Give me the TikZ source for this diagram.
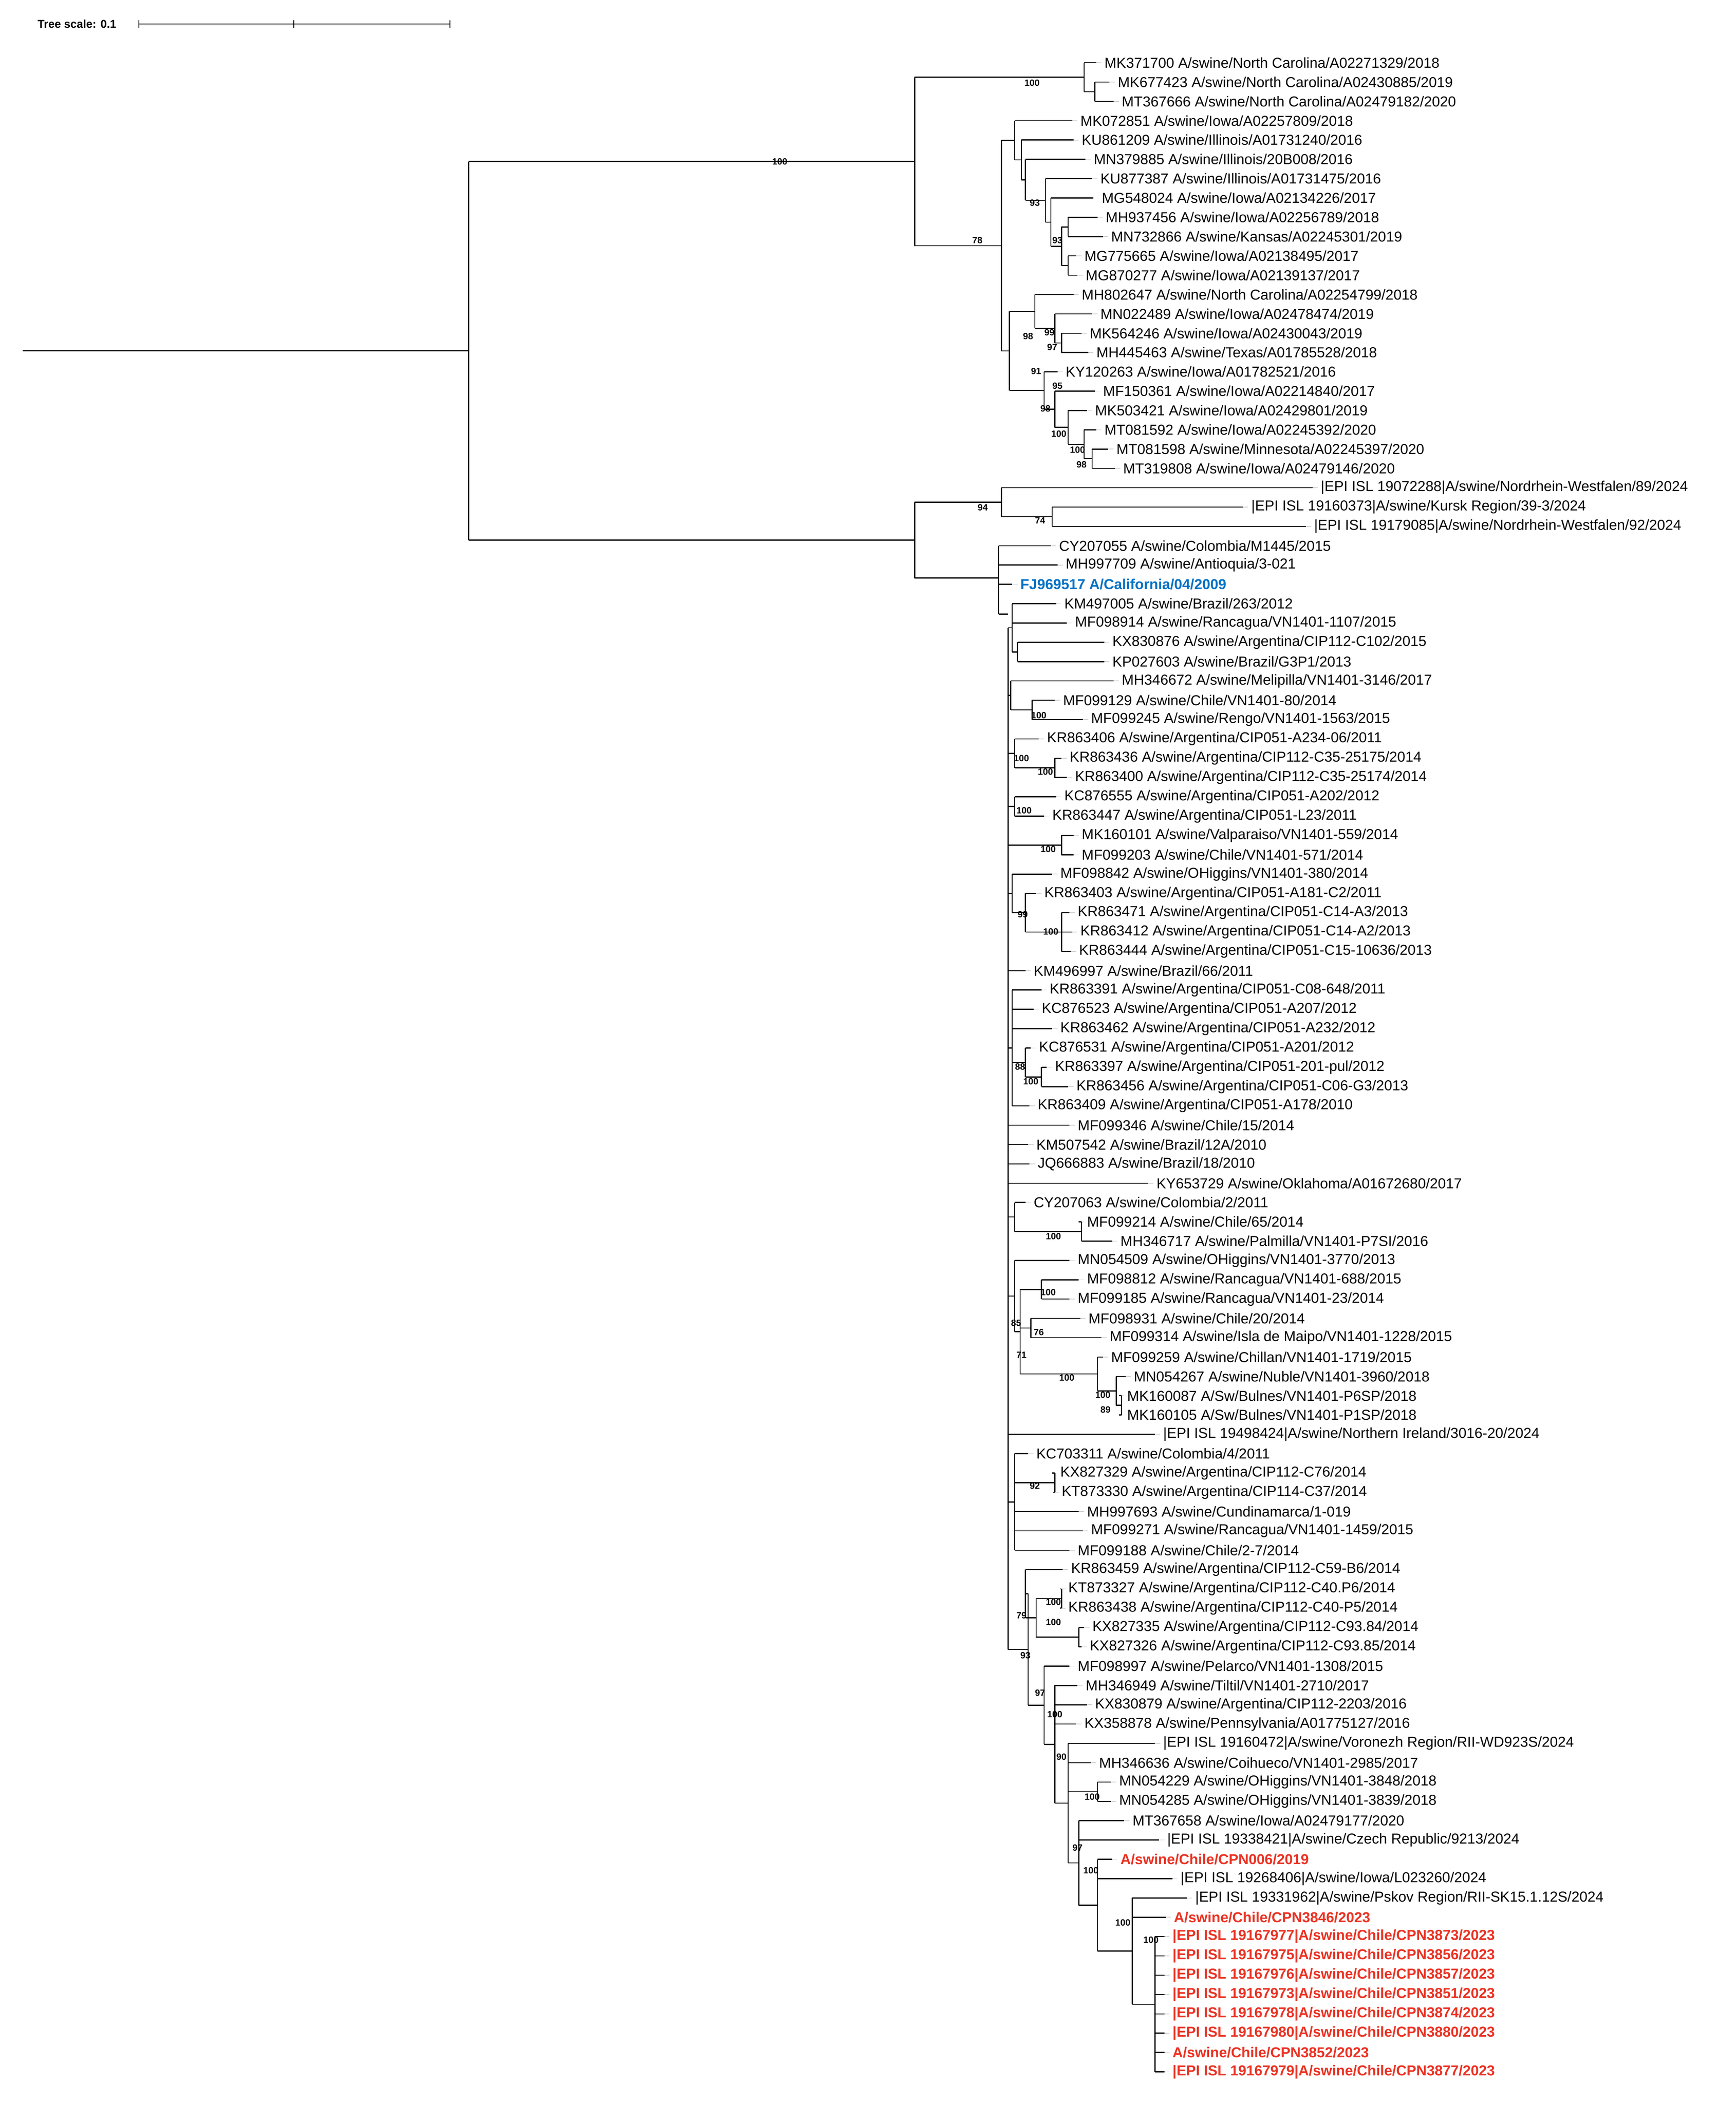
\documentclass[tikz,border=0pt]{standalone}
\usepackage{fontspec}
\setmainfont{Liberation Sans}
\usetikzlibrary{calc}
\definecolor{tblue}{RGB}{0,114,198}
\definecolor{tred}{RGB}{235,50,35}
\tikzset{br/.style={line width=0.8pt,black},
 leaf/.style={anchor=west,inner sep=1pt,font=\fontsize{10.8}{12}\selectfont},
 bs/.style={inner sep=0pt,font=\bfseries\fontsize{6.8}{7}\selectfont},
 dot/.style={gray!35,line width=0.5pt},
 rl/.style={text=tred,font=\bfseries\fontsize{10.8}{12}\selectfont}}
\newcommand\lf[4][]{%
 \coordinate (t#2) at (#3,{47+(#2-1)*14.47});
 \node[leaf,#1] (l#2) at ([xshift=5pt]t#2) {#4};
 \draw[dot] (t#2) -- ([xshift=4pt]t#2);}
\newcommand\cl[4][]{%
 \foreach \c [count=\i] in {#4}{\ifnum\i=1 \global\let\cfirst\c\fi \global\let\clast\c}%
 \coordinate (tmp) at ($(\cfirst)!0.5!(\clast)$);
 \if\relax\detokenize{#1}\relax
 \coordinate (#2) at (#3,0 |- tmp);
 \else
 \coordinate (#2) at (#3,#1);
 \fi
 \draw[br] (#2 |- \cfirst) -- (#2 |- \clast);
 \foreach \c in {#4}{\draw[br] (#2 |- \c) -- (\c);}}
\begin{document}
\begin{tikzpicture}[x=1pt,y=-1pt]
\fill[white] (0,0) rectangle (1300,1576);
\useasboundingbox (0,0) rectangle (1300,1576);
\node[bs,anchor=west,font=\bfseries\fontsize{8.5}{9}\selectfont] (ts) at (28,18) {Tree scale: 0.1};
\coordinate (s0) at (104,18); \coordinate (s1) at (220,18); \coordinate (s2) at (337,18);
\draw[line width=0.6pt] (s0) -- (s2);
\foreach \p in {s0,s1,s2}{\draw[line width=0.6pt] ([yshift=-3pt]\p) -- ([yshift=3pt]\p);}
\lf{1}{821}{MK371700 A/swine/North Carolina/A02271329/2018}
\lf{2}{831}{MK677423 A/swine/North Carolina/A02430885/2019}
\lf{3}{834}{MT367666 A/swine/North Carolina/A02479182/2020}
\lf{4}{803}{MK072851 A/swine/Iowa/A02257809/2018}
\lf{5}{804}{KU861209 A/swine/Illinois/A01731240/2016}
\lf{6}{813}{MN379885 A/swine/Illinois/20B008/2016}
\lf{7}{818}{KU877387 A/swine/Illinois/A01731475/2016}
\lf{8}{819}{MG548024 A/swine/Iowa/A02134226/2017}
\lf{9}{822}{MH937456 A/swine/Iowa/A02256789/2018}
\lf{10}{826}{MN732866 A/swine/Kansas/A02245301/2019}
\lf{11}{806}{MG775665 A/swine/Iowa/A02138495/2017}
\lf{12}{807}{MG870277 A/swine/Iowa/A02139137/2017}
\lf{13}{804}{MH802647 A/swine/North Carolina/A02254799/2018}
\lf{14}{818}{MN022489 A/swine/Iowa/A02478474/2019}
\lf{15}{810}{MK564246 A/swine/Iowa/A02430043/2019}
\lf{16}{815}{MH445463 A/swine/Texas/A01785528/2018}
\lf{17}{792}{KY120263 A/swine/Iowa/A01782521/2016}
\lf{18}{820}{MF150361 A/swine/Iowa/A02214840/2017}
\lf{19}{814}{MK503421 A/swine/Iowa/A02429801/2019}
\lf{20}{821}{MT081592 A/swine/Iowa/A02245392/2020}
\lf{21}{830}{MT081598 A/swine/Minnesota/A02245397/2020}
\lf{22}{835}{MT319808 A/swine/Iowa/A02479146/2020}
\lf{23}{983}{|EPI ISL 19072288|A/swine/Nordrhein-Westfalen/89/2024}
\lf{24}{931}{|EPI ISL 19160373|A/swine/Kursk Region/39-3/2024}
\lf{25}{978}{|EPI ISL 19179085|A/swine/Nordrhein-Westfalen/92/2024}
\lf{26}{787}{CY207055 A/swine/Colombia/M1445/2015}
\lf{27}{792}{MH997709 A/swine/Antioquia/3-021}
\lf[text=tblue,font=\bfseries\fontsize{10.8}{12}\selectfont]{28}{758}{FJ969517 A/California/04/2009}
\lf{29}{791}{KM497005 A/swine/Brazil/263/2012}
\lf{30}{799}{MF098914 A/swine/Rancagua/VN1401-1107/2015}
\lf{31}{827}{KX830876 A/swine/Argentina/CIP112-C102/2015}
\lf{32}{827}{KP027603 A/swine/Brazil/G3P1/2013}
\lf{33}{834}{MH346672 A/swine/Melipilla/VN1401-3146/2017}
\lf{34}{790}{MF099129 A/swine/Chile/VN1401-80/2014}
\lf{35}{811}{MF099245 A/swine/Rengo/VN1401-1563/2015}
\lf{36}{778}{KR863406 A/swine/Argentina/CIP051-A234-06/2011}
\lf{37}{795}{KR863436 A/swine/Argentina/CIP112-C35-25175/2014}
\lf{38}{799}{KR863400 A/swine/Argentina/CIP112-C35-25174/2014}
\lf{39}{791}{KC876555 A/swine/Argentina/CIP051-A202/2012}
\lf{40}{782}{KR863447 A/swine/Argentina/CIP051-L23/2011}
\lf{41}{804}{MK160101 A/swine/Valparaiso/VN1401-559/2014}
\lf{42}{804}{MF099203 A/swine/Chile/VN1401-571/2014}
\lf{43}{788}{MF098842 A/swine/OHiggins/VN1401-380/2014}
\lf{44}{776}{KR863403 A/swine/Argentina/CIP051-A181-C2/2011}
\lf{45}{801}{KR863471 A/swine/Argentina/CIP051-C14-A3/2013}
\lf{46}{803}{KR863412 A/swine/Argentina/CIP051-C14-A2/2013}
\lf{47}{802}{KR863444 A/swine/Argentina/CIP051-C15-10636/2013}
\lf{48}{768}{KM496997 A/swine/Brazil/66/2011}
\lf{49}{780}{KR863391 A/swine/Argentina/CIP051-C08-648/2011}
\lf{50}{774}{KC876523 A/swine/Argentina/CIP051-A207/2012}
\lf{51}{788}{KR863462 A/swine/Argentina/CIP051-A232/2012}
\lf{52}{772}{KC876531 A/swine/Argentina/CIP051-A201/2012}
\lf{53}{784}{KR863397 A/swine/Argentina/CIP051-201-pul/2012}
\lf{54}{800}{KR863456 A/swine/Argentina/CIP051-C06-G3/2013}
\lf{55}{771}{KR863409 A/swine/Argentina/CIP051-A178/2010}
\lf{56}{801}{MF099346 A/swine/Chile/15/2014}
\lf{57}{770}{KM507542 A/swine/Brazil/12A/2010}
\lf{58}{771}{JQ666883 A/swine/Brazil/18/2010}
\lf{59}{860}{KY653729 A/swine/Oklahoma/A01672680/2017}
\lf{60}{768}{CY207063 A/swine/Colombia/2/2011}
\lf{61}{808}{MF099214 A/swine/Chile/65/2014}
\lf{62}{833}{MH346717 A/swine/Palmilla/VN1401-P7SI/2016}
\lf{63}{801}{MN054509 A/swine/OHiggins/VN1401-3770/2013}
\lf{64}{808}{MF098812 A/swine/Rancagua/VN1401-688/2015}
\lf{65}{801}{MF099185 A/swine/Rancagua/VN1401-23/2014}
\lf{66}{809}{MF098931 A/swine/Chile/20/2014}
\lf{67}{825}{MF099314 A/swine/Isla de Maipo/VN1401-1228/2015}
\lf{68}{826}{MF099259 A/swine/Chillan/VN1401-1719/2015}
\lf{69}{843}{MN054267 A/swine/Nuble/VN1401-3960/2018}
\lf{70}{838}{MK160087 A/Sw/Bulnes/VN1401-P6SP/2018}
\lf{71}{838}{MK160105 A/Sw/Bulnes/VN1401-P1SP/2018}
\lf{72}{865}{|EPI ISL 19498424|A/swine/Northern Ireland/3016-20/2024}
\lf{73}{770}{KC703311 A/swine/Colombia/4/2011}
\lf{74}{788}{KX827329 A/swine/Argentina/CIP112-C76/2014}
\lf{75}{789}{KT873330 A/swine/Argentina/CIP114-C37/2014}
\lf{76}{808}{MH997693 A/swine/Cundinamarca/1-019}
\lf{77}{811}{MF099271 A/swine/Rancagua/VN1401-1459/2015}
\lf{78}{801}{MF099188 A/swine/Chile/2-7/2014}
\lf{79}{796}{KR863459 A/swine/Argentina/CIP112-C59-B6/2014}
\lf{80}{794}{KT873327 A/swine/Argentina/CIP112-C40.P6/2014}
\lf{81}{794}{KR863438 A/swine/Argentina/CIP112-C40-P5/2014}
\lf{82}{812}{KX827335 A/swine/Argentina/CIP112-C93.84/2014}
\lf{83}{810}{KX827326 A/swine/Argentina/CIP112-C93.85/2014}
\lf{84}{801}{MF098997 A/swine/Pelarco/VN1401-1308/2015}
\lf{85}{807}{MH346949 A/swine/Tiltil/VN1401-2710/2017}
\lf{86}{814}{KX830879 A/swine/Argentina/CIP112-2203/2016}
\lf{87}{806}{KX358878 A/swine/Pennsylvania/A01775127/2016}
\lf{88}{865}{|EPI ISL 19160472|A/swine/Voronezh Region/RII-WD923S/2024}
\lf{89}{817}{MH346636 A/swine/Coihueco/VN1401-2985/2017}
\lf{90}{832}{MN054229 A/swine/OHiggins/VN1401-3848/2018}
\lf{91}{832}{MN054285 A/swine/OHiggins/VN1401-3839/2018}
\lf{92}{842}{MT367658 A/swine/Iowa/A02479177/2020}
\lf{93}{868}{|EPI ISL 19338421|A/swine/Czech Republic/9213/2024}
\lf[rl]{94}{833}{A/swine/Chile/CPN006/2019}
\lf{95}{878}{|EPI ISL 19268406|A/swine/Iowa/L023260/2024}
\lf{96}{889}{|EPI ISL 19331962|A/swine/Pskov Region/RII-SK15.1.12S/2024}
\lf[rl]{97}{873}{A/swine/Chile/CPN3846/2023}
\lf[rl]{98}{872}{|EPI ISL 19167977|A/swine/Chile/CPN3873/2023}
\lf[rl]{99}{872}{|EPI ISL 19167975|A/swine/Chile/CPN3856/2023}
\lf[rl]{100}{872}{|EPI ISL 19167976|A/swine/Chile/CPN3857/2023}
\lf[rl]{101}{872}{|EPI ISL 19167973|A/swine/Chile/CPN3851/2023}
\lf[rl]{102}{872}{|EPI ISL 19167978|A/swine/Chile/CPN3874/2023}
\lf[rl]{103}{872}{|EPI ISL 19167980|A/swine/Chile/CPN3880/2023}
\lf[rl]{104}{872}{A/swine/Chile/CPN3852/2023}
\lf[rl]{105}{872}{|EPI ISL 19167979|A/swine/Chile/CPN3877/2023}
% clade A
\cl{A1b}{820}{t2,t3}
\cl{A1}{812}{t1,A1b}
\cl{Aa7}{800}{t11,t12}
\cl{Aa6}{800}{t9,t10}
\cl{Aa5}{795}{Aa6,Aa7}
\cl{Aa4}{787}{t8,Aa5}
\cl{Aa3}{783}{t7,Aa4}
\cl{Aa2}{768}{t6,Aa3}
\cl{Aa1}{765}{t5,Aa2}
\cl{Aa}{760}{t4,Aa1}
\cl{B3}{795}{t15,t16}
\cl{B2}{790}{t14,B3}
\cl{B1}{775}{t13,B2}
\cl{B8}{818}{t21,t22}
\cl{B7}{812}{t20,B8}
\cl{B6}{800}{t19,B7}
\cl{B5}{790}{t18,B6}
\cl{B4}{782}{t17,B5}
\cl{Ab}{756}{B1,B4}
\cl{A2}{750}{Aa,Ab}
\cl{A}{685}{A1,A2}
% clade C
\cl{C1}{788}{t24,t25}
\cl{C}{750}{t23,C1}
% big clade
\cl{G1a}{762}{t31,t32}
\cl{G1}{758}{t29,t30,G1a}
\cl{G2a}{773}{t34,t35}
\cl{G2}{757}{t33,G2a}
\cl{G3a}{790}{t37,t38}
\cl{G3}{760}{t36,G3a}
\cl{G4}{760}{t39,t40}
\cl{G5}{795}{t41,t42}
\cl{G6b}{795}{t45,t46,t47}
\cl{G6a}{768}{t44,G6b}
\cl{G6}{758}{t43,G6a}
\cl{G7b}{780}{t53,t54}
\cl{G7a}{768}{t52,G7b}
\cl{G7}{758}{t49,t50,t51,G7a,t55}
\cl{G8a}{810}{t61,t62}
\cl{G8}{760}{t60,G8a}
\cl{G9f}{840}{t70,t71}
\cl{G9e}{836}{t69,G9f}
\cl{G9d}{822}{t68,G9e}
\cl{G9c}{772}{t66,t67}
\cl{G9b}{780}{t64,t65}
\cl{G9a}{764}{G9b,G9c,G9d}
\cl{G9}{760}{t63,G9a}
\cl{G10a}{790}{t74,t75}
\cl{G10}{760}{t73,G10a,t76,t77,t78}
\cl{G11a}{795}{t80,t81}
\cl{G11b}{808}{t82,t83}
\cl{G11c}{776}{G11a,G11b}
\cl{G11}{768}{t79,G11c}
\cl{G12g}{865}{t98,t99,t100,t101,t102,t103,t104,t105}
\cl{G12f}{848}{t96,t97,G12g}
\cl{G12e}{822}{t94,t95,G12f}
\cl{G12d}{808}{t92,t93,G12e}
\cl{G12c}{822}{t90,t91}
\cl{G12b}{800}{t88,t89,G12c,G12d}
\cl{G12a}{790}{t85,t86,t87,G12b}
\cl{G12}{782}{t84,G12a}
\cl{G13}{770}{G11,G12}
\cl[460]{D2}{755}{G1,G2,G3,G4,G5,G6,t48,G7,t56,t57,t58,t59,G8,G9,t72,G10,G13}
\cl[433]{D}{748}{t26,t27,t28,D2}
\cl{B}{685}{C,D}
\cl{R}{351}{A,B}
\coordinate (R0) at (17,0 |- R);
\draw[br] (R0) -- (R);
% bootstrap values
\foreach \x/\y/\v [count=\k] in {773/62/100,584/121/100,732/180/78,775/152/93,792/180/93,770/252/98,786/249/99,788/260/97,776/278/91,792/289/95,783/306/98,793/325/100,807/337/100,810/348/98,736/380/94,779/390/74,778/536/100,765/568/100,783/578/100,767/607/100,785/636/100,766/685/99,787/698/100,764/799/88,772/810/100,789/926/100,785/968/100,761/991/85,778/998/76,765/1015/71,799/1032/100,826/1045/100,828/1056/89,775/1113/92,789/1200/100,765/1210/79,789/1215/100,768/1240/93,779/1268/97,790/1284/100,795/1316/90,818/1346/100,807/1384/97,817/1401/100,841/1440/100,862/1453/100}
 {\node[bs] (bs\k) at (\x,\y) {\v};}
\end{tikzpicture}
\end{document}
